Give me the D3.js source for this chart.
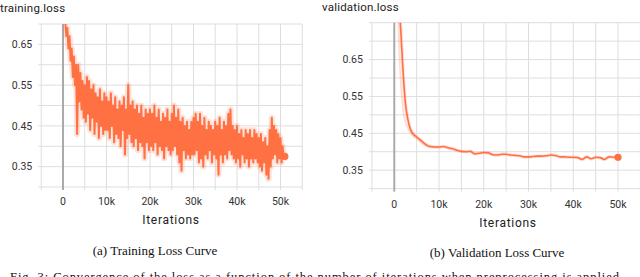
<!DOCTYPE html>
<html>
<head>
<meta charset="utf-8">
<script src="https://cdn.jsdelivr.net/npm/d3@7"></script>
<style>
  html, body { margin: 0; padding: 0; background: #fff; }
  svg { display: block; }
</style>
</head>
<body>
<svg id="chart" width="640" height="277"></svg>
<script>
// ---------------- DATA ----------------
// Training loss, one value every 250 iterations (0 .. 51,000)
const trainStep = 250;
const trainLoss = [
  0.80, 0.74, 0.71, 0.67, 0.69, 0.64, 0.67, 0.61, 0.64, 0.57, 0.62, 0.55, 0.60, 0.43, 0.60, 0.51, 0.58, 0.49, 0.56, 0.47,
  0.55, 0.46, 0.57, 0.48, 0.56, 0.44, 0.54, 0.47, 0.55, 0.43, 0.53, 0.46, 0.52, 0.42, 0.54, 0.45, 0.51, 0.43, 0.53, 0.44,
  0.52, 0.44, 0.51, 0.42, 0.53, 0.45, 0.50, 0.41, 0.52, 0.43, 0.49, 0.42, 0.51, 0.40, 0.50, 0.44, 0.52, 0.38, 0.49, 0.42,
  0.55, 0.43, 0.50, 0.41, 0.51, 0.40, 0.49, 0.42, 0.50, 0.39, 0.48, 0.41, 0.50, 0.40, 0.47, 0.37, 0.49, 0.41, 0.48, 0.39,
  0.49, 0.40, 0.48, 0.39, 0.50, 0.41, 0.47, 0.38, 0.49, 0.40, 0.46, 0.39, 0.48, 0.37, 0.47, 0.40, 0.49, 0.39, 0.46, 0.38,
  0.48, 0.39, 0.50, 0.40, 0.47, 0.38, 0.49, 0.36, 0.46, 0.34, 0.47, 0.39, 0.45, 0.37, 0.46, 0.38, 0.44, 0.37, 0.46, 0.38,
  0.47, 0.38, 0.48, 0.39, 0.46, 0.36, 0.48, 0.37, 0.45, 0.35, 0.47, 0.38, 0.44, 0.37, 0.46, 0.39, 0.45, 0.36, 0.44, 0.38,
  0.46, 0.37, 0.45, 0.33, 0.47, 0.38, 0.44, 0.36, 0.46, 0.38, 0.45, 0.37, 0.48, 0.39, 0.49, 0.38, 0.45, 0.37, 0.44, 0.36,
  0.45, 0.37, 0.43, 0.35, 0.44, 0.38, 0.42, 0.36, 0.44, 0.37, 0.43, 0.35, 0.44, 0.37, 0.42, 0.36, 0.44, 0.37, 0.43, 0.36,
  0.42, 0.35, 0.43, 0.34, 0.41, 0.36, 0.42, 0.33, 0.40, 0.32, 0.44, 0.35, 0.47, 0.37, 0.45, 0.38, 0.44, 0.36, 0.43, 0.37,
  0.42, 0.36, 0.40, 0.37, 0.375
];

// Validation loss (smoothed) at evaluation iterations
const valIter = [0, 1000, 1500, 2000, 2500, 3000, 3500, 4000, 5000, 6000, 7000, 8000, 9000, 10000,
  11000, 12000, 13000, 14000, 15000, 16000, 17000, 18000, 19000, 20000, 21000, 22000, 23000, 24000, 25000,
  26000, 27000, 28000, 29000, 30000, 31000, 32000, 33000, 34000, 35000, 36000, 37000, 38000, 39000, 40000,
  41000, 42000, 43000, 44000, 45000, 46000, 47000, 48000, 49000, 50000];
const valLoss = [1.10, 0.82, 0.72, 0.61, 0.53, 0.49, 0.465, 0.452, 0.44, 0.43, 0.42, 0.414, 0.413, 0.413,
  0.414, 0.411, 0.408, 0.404, 0.401, 0.400, 0.401, 0.394, 0.396, 0.398, 0.397, 0.392, 0.391, 0.393, 0.393,
  0.391, 0.390, 0.389, 0.386, 0.386, 0.387, 0.388, 0.388, 0.389, 0.391, 0.390, 0.386, 0.386, 0.385, 0.385,
  0.384, 0.379, 0.386, 0.381, 0.385, 0.384, 0.379, 0.386, 0.385, 0.385];
// Raw (unsmoothed) validation loss, early part where it departs from the smoothed curve
const valRawIter = [0, 1000, 1500, 2000, 2500, 3000, 4000, 5000, 6000, 7000, 8000, 9000, 10000];
const valRawLoss = [1.20, 0.70, 0.58, 0.51, 0.48, 0.465, 0.445, 0.436, 0.425, 0.416, 0.412, 0.413, 0.413];

const yTicksTrain = [0.35, 0.45, 0.55, 0.65];
const yTicksVal = [0.35, 0.45, 0.55, 0.65];
const xTicks = [0, 10000, 20000, 30000, 40000, 50000];
const xTickLabels = ["0", "10k", "20k", "30k", "40k", "50k"];

const titles = ["training.loss", "validation.loss"];
const xAxisTitle = "Iterations";
const captions = ["(a) Training Loss Curve", "(b) Validation Loss Curve"];
const figCaption = "Fig. 3: Convergence of the loss as a function of the number of iterations when preprocessing is applied.";

// ---------------- DRAW ----------------
const svg = d3.select("#chart");
const ORANGE = "#ff7043";
const sans = "Roboto, 'DejaVu Sans', sans-serif";
const serif = "'Liberation Serif', 'DejaVu Serif', serif";

const trainData = trainLoss.map((v, i) => ({x: i * trainStep, y: v}));
const valData = valIter.map((x, i) => ({x, y: valLoss[i]}));
const valRawData = valRawIter.map((x, i) => ({x, y: valRawLoss[i]}));

function panel(cfg) {
  const x = d3.scaleLinear().domain([-5000, 55000]).range(cfg.xr);
  const y = d3.scaleLinear().domain(cfg.yd).range(cfg.yr);
  const g = svg.append("g");
  const [x0, x1] = cfg.xr;
  const [yb, yt] = cfg.yr;

  const hg = d3.range(Math.round(cfg.yd[0] * 100), Math.round(cfg.yd[1] * 100) + 1, 5).map(d => d / 100);
  g.selectAll(".hg").data(hg).join("line")
    .attr("x1", x0 - 3).attr("x2", x1)
    .attr("y1", d => y(d)).attr("y2", d => y(d))
    .attr("stroke", "#dedede").attr("stroke-width", 1);
  const vg = d3.range(-5000, 55001, 5000);
  g.selectAll(".vg").data(vg).join("line")
    .attr("x1", d => x(d)).attr("x2", d => x(d))
    .attr("y1", yt).attr("y2", yb + 3)
    .attr("stroke", d => d === 0 ? "#aaaaaa" : "#dedede")
    .attr("stroke-width", d => d === 0 ? 2 : 1);

  g.selectAll(".yl").data(cfg.yTicks).join("text")
    .attr("x", x0 - 9).attr("y", d => y(d)).attr("dy", "0.35em")
    .attr("text-anchor", "end")
    .attr("font-family", sans).attr("font-size", 10.5).attr("fill", "#333")
    .text(d => d3.format(".2f")(d));
  g.selectAll(".xl").data(xTicks).join("text")
    .attr("x", d => x(d)).attr("y", cfg.xLabelY).attr("dy", "0.35em")
    .attr("text-anchor", "middle")
    .attr("font-family", sans).attr("font-size", 10.5).attr("fill", "#333")
    .text((d, i) => xTickLabels[i]);
  g.append("text")
    .attr("x", cfg.axisTitleX).attr("y", cfg.axisTitleY).attr("dy", "0.35em")
    .attr("text-anchor", "middle")
    .attr("font-family", sans).attr("font-size", 12).attr("letter-spacing", 0.7).attr("fill", "#222")
    .text(xAxisTitle);
  g.append("text")
    .attr("x", cfg.titleX).attr("y", cfg.titleY)
    .attr("font-family", sans).attr("font-size", 11.5).attr("letter-spacing", 0.2).attr("fill", "#222")
    .text(cfg.title);
  g.append("text")
    .attr("x", cfg.capX).attr("y", cfg.capY).attr("dy", "0.35em")
    .attr("text-anchor", "middle")
    .attr("font-family", serif).attr("font-size", 13).attr("fill", "#111")
    .text(cfg.caption);

  const id = "clip" + cfg.key;
  svg.append("clipPath").attr("id", id).append("rect")
    .attr("x", x0).attr("y", yt).attr("width", x1 - x0).attr("height", yb - yt);
  const plot = g.append("g").attr("clip-path", `url(#${id})`);
  return {x, y, g, plot};
}

// Left panel: training
const L = panel({
  key: "L", xr: [41.25, 302.25], yd: [0.30, 0.70], yr: [187, 24], yTicks: yTicksTrain,
  xLabelY: 201, axisTitleX: 171, axisTitleY: 220, titleX: 0, titleY: 12,
  title: titles[0], capX: 155, capY: 250, caption: captions[0]
});
const lineL = d3.line().x(d => L.x(d.x)).y(d => L.y(d.y));
L.plot.append("path").datum(trainData).attr("d", lineL)
  .attr("fill", "none").attr("stroke", ORANGE).attr("stroke-opacity", 0.2)
  .attr("stroke-width", 6).attr("stroke-linejoin", "round");
L.plot.append("path").datum(trainData).attr("d", lineL)
  .attr("fill", "none").attr("stroke", ORANGE).attr("stroke-width", 2)
  .attr("stroke-linejoin", "round");
const lastT = trainData[trainData.length - 1];
L.g.append("circle").attr("cx", L.x(lastT.x)).attr("cy", L.y(lastT.y)).attr("r", 3.6).attr("fill", ORANGE);

// Right panel: validation
const R = panel({
  key: "R", xr: [371.9, 640.4], yd: [0.30, 0.75], yr: [188.6, 22.7], yTicks: yTicksVal,
  xLabelY: 204, axisTitleX: 508, axisTitleY: 223, titleX: 322, titleY: 10.5,
  title: titles[1], capX: 497, capY: 252.5, caption: captions[1]
});
const lineR = d3.line().x(d => R.x(d.x)).y(d => R.y(d.y)).curve(d3.curveMonotoneX);
R.plot.append("path").datum(valRawData).attr("d", lineR)
  .attr("fill", "none").attr("stroke", ORANGE).attr("stroke-opacity", 0.25)
  .attr("stroke-width", 1.6);
R.plot.append("path").datum(valData).attr("d", lineR)
  .attr("fill", "none").attr("stroke", ORANGE).attr("stroke-opacity", 0.22).attr("stroke-width", 3.5);
R.plot.append("path").datum(valData).attr("d", lineR)
  .attr("fill", "none").attr("stroke", ORANGE).attr("stroke-width", 1.6);
const lastV = valData[valData.length - 1];
R.g.append("circle").attr("cx", R.x(lastV.x)).attr("cy", R.y(lastV.y)).attr("r", 3.6).attr("fill", ORANGE);

// Figure caption (cut by bottom edge, as in the reference)
svg.append("text")
  .attr("x", 10).attr("y", 281)
  .attr("font-family", serif).attr("font-size", 12.5).attr("fill", "#111")
  .attr("textLength", 613).attr("lengthAdjust", "spacing")
  .text(figCaption);
</script>
</body>
</html>
